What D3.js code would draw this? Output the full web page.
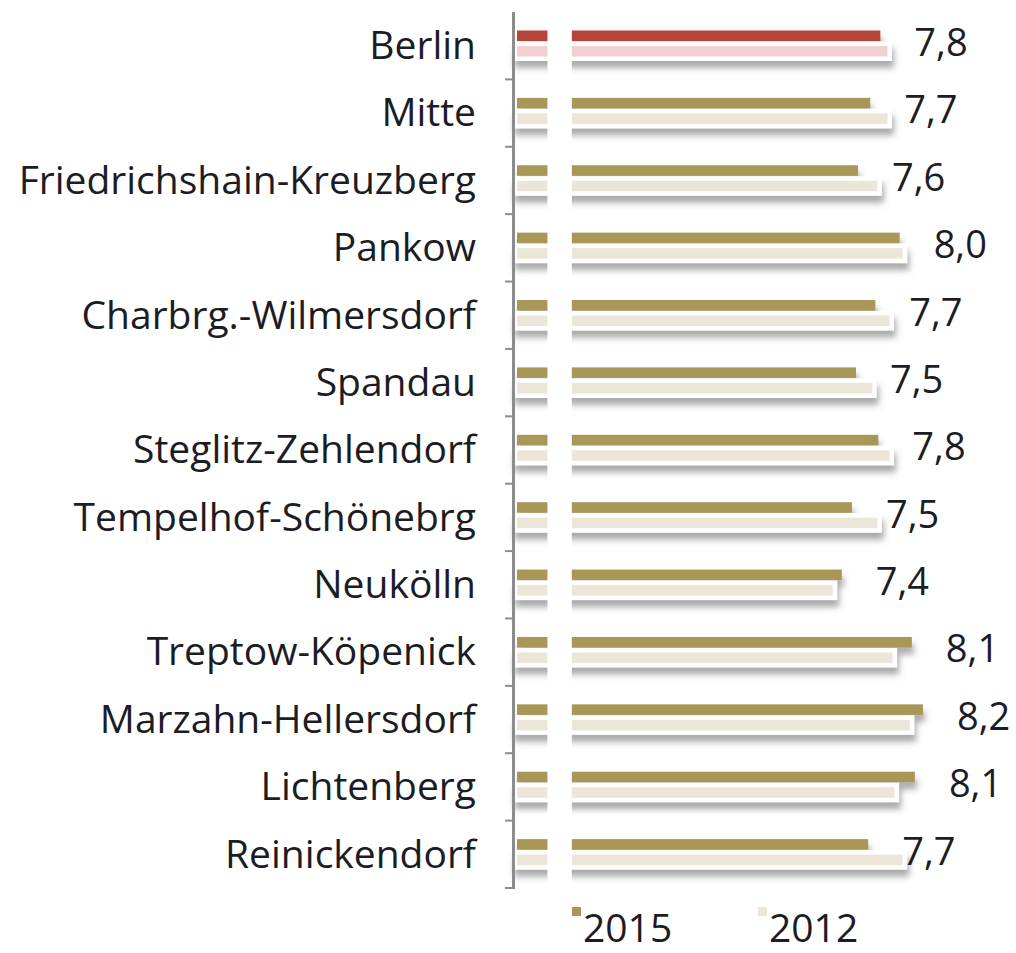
<!DOCTYPE html>
<html>
<head>
<meta charset="utf-8">
<script src="https://cdn.jsdelivr.net/npm/d3@7"></script>
<style>
	body { margin: 0; background: #fff; }
	svg text { font-family: "Open Sans", "Noto Sans", sans-serif; fill: #1c1c24; }
</style>
</head>
<body>
<div id="chart"></div>
<script>
// data
var categories = ["Berlin", "Mitte", "Friedrichshain-Kreuzberg", "Pankow", "Charbrg.-Wilmersdorf",
		"Spandau", "Steglitz-Zehlendorf", "Tempelhof-Schönebrg", "Neukölln", "Treptow-Köpenick",
		"Marzahn-Hellersdorf", "Lichtenberg", "Reinickendorf"],
	values2015 = [7.78, 7.68, 7.56, 7.97, 7.73, 7.54, 7.76, 7.50, 7.40, 8.09, 8.20, 8.12, 7.66],
	values2012 = [7.85, 7.85, 7.75, 8.00, 7.87, 7.70, 7.87, 7.75, 7.31, 7.90, 8.07, 7.92, 8.00],
	seriesNames = ["2015", "2012"];

// colours
var colors = {"2015": "#a99759", "2012": "#ebe6d8"},
	berlinColors = {"2015": "#b3443a", "2012": "#f3cfcf"};

var w = 1016,
	h = 953;

var rows = categories.map(function(c, i) {
	return {name: c, "2015": values2015[i], "2012": values2012[i]};
});

var svg = d3.select("#chart").append("svg")
	.attr("width", w)
	.attr("height", h);

// drop shadow under each bar pair
var defs = svg.append("defs");
defs.append("filter")
	.attr("id", "shadow")
	.attr("x", "-5%").attr("y", "-50%")
	.attr("width", "110%").attr("height", "220%")
	.append("feDropShadow")
	.attr("dx", 2)
	.attr("dy", 7)
	.attr("stdDeviation", 3)
	.attr("flood-color", "#555")
	.attr("flood-opacity", 0.5);

// scales (axis is broken between 4,5 and 4,74)
var x = d3.scaleLinear().domain([4.2, 8.2]).range([517, 923]),
	breakFrom = 4.5,
	breakTo = 4.74;

var y = d3.scaleBand().domain(categories).range([12, 888]);
var ySub = d3.scaleBand().domain(seriesNames).range([18.5, 44.5]).paddingInner(0.32);

var fmt = function(v) { return d3.format(".1f")(v).replace(".", ","); };

var groups = svg.selectAll("g.row")
	.data(rows)
	.enter()
	.append("g")
	.attr("class", "row")
	.attr("transform", function(d) { return "translate(0," + y(d.name) + ")"; });

var bars = groups.append("g")
	.attr("filter", "url(#shadow)");

bars.append("rect")
	.attr("x", x(4.2))
	.attr("y", ySub("2015"))
	.attr("width", function(d) { return x(d["2015"]) - x(4.2); })
	.attr("height", ySub.bandwidth())
	.attr("fill", function(d) { return d.name == "Berlin" ? berlinColors["2015"] : colors["2015"]; });

bars.append("rect")
	.attr("x", x(4.2))
	.attr("y", ySub("2012"))
	.attr("width", function(d) { return x(d["2012"]) - x(4.2); })
	.attr("height", ySub.bandwidth())
	.attr("fill", function(d) { return d.name == "Berlin" ? berlinColors["2012"] : colors["2012"]; })
	.attr("stroke", "#fff")
	.attr("stroke-width", 9)
	.style("paint-order", "stroke");

// value labels
groups.append("text")
	.attr("x", function(d) { return x(d["2015"]) + 34; })
	.attr("y", 44)
	.attr("font-size", 38)
	.text(function(d) { return fmt(d["2015"]); });

// category labels
groups.append("text")
	.attr("x", 476)
	.attr("y", 47)
	.attr("text-anchor", "end")
	.attr("font-size", 39)
	.text(function(d) { return d.name; });

// axis break
svg.append("rect")
	.attr("x", x(breakFrom))
	.attr("y", y.range()[0])
	.attr("width", x(breakTo) - x(breakFrom))
	.attr("height", y.range()[1] - y.range()[0] + 4)
	.attr("fill", "#fff");

// vertical axis with ticks between the categories
var axis = svg.append("g").attr("stroke", "#8c8c8c");
axis.append("line")
	.attr("x1", 513.5).attr("x2", 513.5)
	.attr("y1", y.range()[0]).attr("y2", y.range()[1] + 1)
	.attr("stroke-width", 3);
axis.selectAll("line.tick")
	.data(categories)
	.enter()
	.append("line")
	.attr("class", "tick")
	.attr("x1", 505).attr("x2", 513)
	.attr("y1", function(d) { return y(d) + y.bandwidth(); })
	.attr("y2", function(d) { return y(d) + y.bandwidth(); })
	.attr("stroke-width", 2);

// legend
var legend = svg.selectAll("g.legend")
	.data(seriesNames)
	.enter()
	.append("g")
	.attr("class", "legend")
	.attr("transform", function(d, i) { return "translate(" + (572 + i * 186) + ",0)"; });

legend.append("rect")
	.attr("x", 0).attr("y", 907)
	.attr("width", 9).attr("height", 9)
	.attr("fill", function(d) { return colors[d]; });

legend.append("text")
	.attr("x", 11)
	.attr("y", 942)
	.attr("font-size", 39)
	.text(function(d) { return d; });
</script>
</body>
</html>
